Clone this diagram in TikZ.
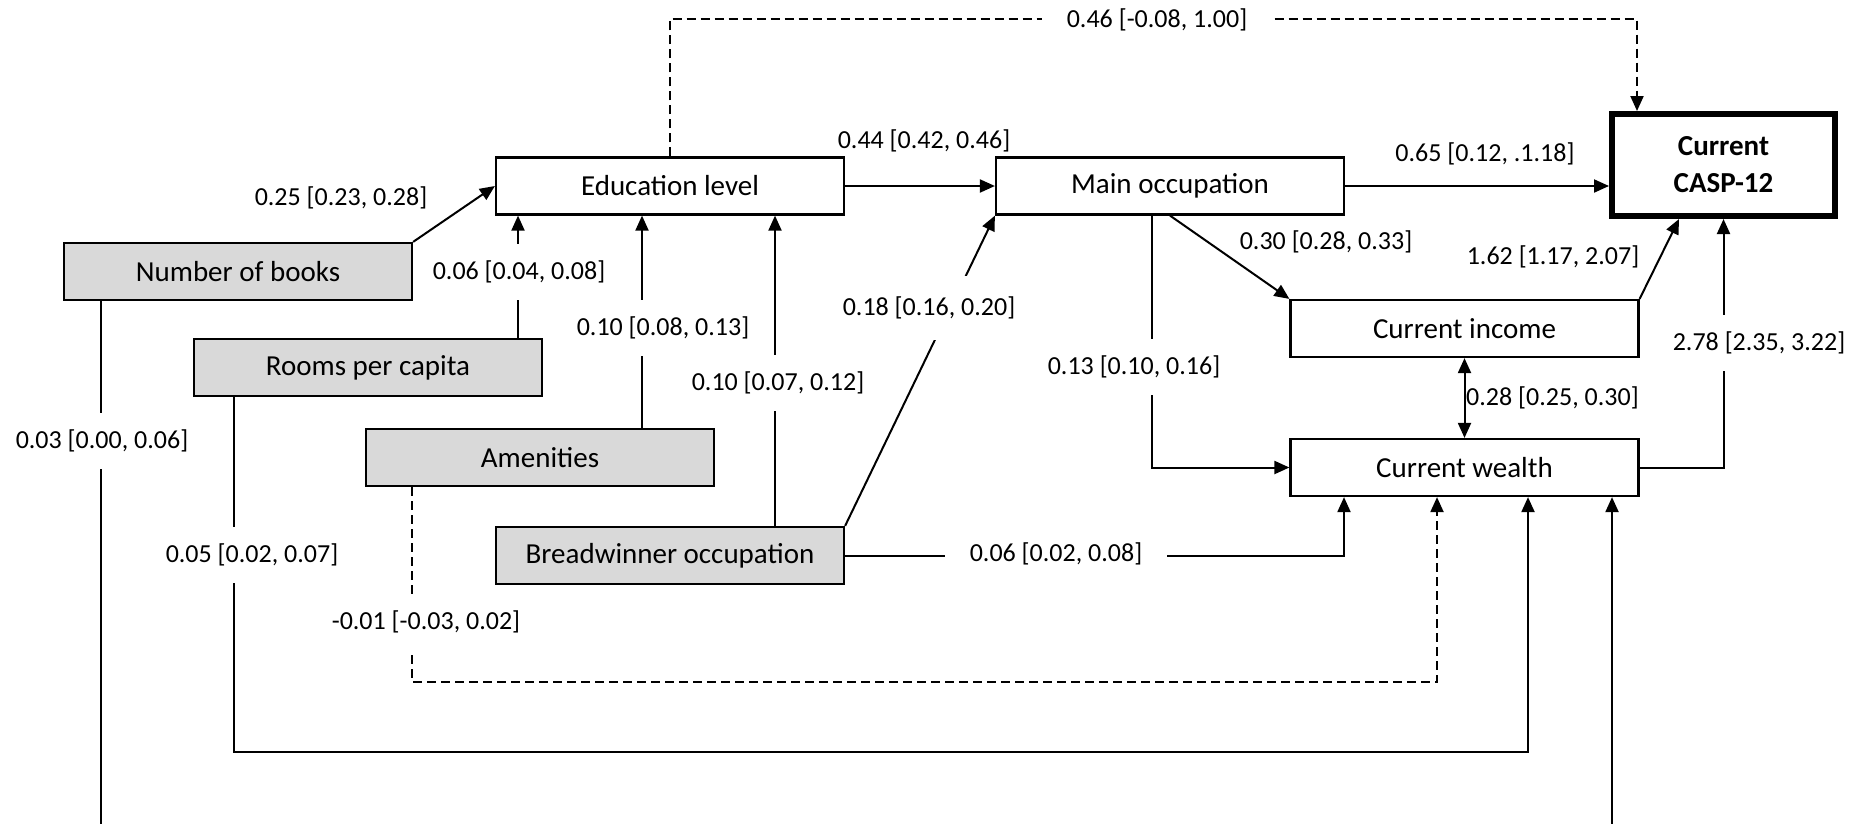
\documentclass[tikz,border=0pt]{standalone}
\usepackage{fontspec}
\setmainfont{Carlito}
\usetikzlibrary{arrows.meta,calc}
\definecolor{boxgray}{HTML}{D9D9D9}
\begin{document}
\begin{tikzpicture}[x=1pt,y=-1pt,
  box/.style={draw,line width=2.2pt,minimum width=348pt,minimum height=57pt,inner sep=0pt,font=\fontsize{29}{35}\selectfont},
  gbox/.style={box,fill=boxgray},
  lbl/.style={font=\fontsize{26}{31}\selectfont,inner sep=0pt},
  lblv/.style={lbl,fill=white,inner xsep=3pt,inner ysep=17pt},
  lblh/.style={lbl,fill=white,inner xsep=25pt,inner ysep=3pt},
  conn/.style={line width=2pt},
  tip/.tip={Triangle[length=15pt,width=13pt]},
  arr/.style={conn,-tip},
  dsh/.style={dash pattern=on 9pt off 5pt}]
\useasboundingbox (0,0) rectangle (1870,823);
\clip (0,0) rectangle (1870,823);
% boxes
\node[box] (edu) at (670,186) {Education level};
\node[box] (main) at (1170,186) {Main occupation};
\node[draw,line width=6pt,minimum width=223pt,minimum height=102pt,align=center,
      font=\fontsize{29}{37}\selectfont\bfseries] (casp) at (1723.5,165) {Current\\CASP-12};
\node[box] (income) at (1464.5,328.5) {Current income};
\node[box] (wealth) at (1464.5,467.5) {Current wealth};
\node[gbox] (books) at (238,271.5) {Number of books};
\node[gbox] (rooms) at (368,367.5) {Rooms per capita};
\node[gbox] (amen) at (540,457.5) {Amenities};
\node[gbox] (bread) at (670,555.5) {Breadwinner occupation};
% helper coordinates
\coordinate (c101) at (101,0);
\coordinate (c234) at (234,0);
\coordinate (c412) at (412,0);
\coordinate (c518) at (518,0);
\coordinate (c642) at (642,0);
\coordinate (c775) at (775,0);
\coordinate (c1152) at (1152,0);
\coordinate (c1344) at (1344,0);
\coordinate (c1437) at (1437,0);
\coordinate (c1528) at (1528,0);
\coordinate (c1612) at (1612,0);
\coordinate (c1637) at (1637,0);
\coordinate (c1679) at (1679,0);
\coordinate (ytop) at (0,19);
\coordinate (y682) at (0,682);
\coordinate (y752) at (0,752);
\coordinate (ybot) at (0,850);
% connectors
\draw[arr,dsh] (edu.north) |- (c1637 |- ytop) -- (casp.north -| c1637);
\draw[arr] (books.north east) -- (edu.west);
\draw[arr] (rooms.north -| c518) -- (edu.south -| c518);
\draw[arr] (amen.north -| c642) -- (edu.south -| c642);
\draw[arr] (bread.north -| c775) -- (edu.south -| c775);
\draw[arr] (edu.east) -- (main.west);
\draw[arr] (bread.north east) -- (main.south west);
\draw[arr] (main.east) -- (main.east -| casp.west);
\draw[arr] (main.south) -- (income.north west);
\draw[arr] (income.north east) -- (casp.south -| c1679);
\draw[arr] (main.south -| c1152) |- (wealth.west);
\draw[arr] (wealth.east) -| (casp.south);
\draw[conn,tip-tip] (income.south) -- (wealth.north);
\draw[arr] (bread.east) -| (wealth.south -| c1344);
\draw[arr,dsh] (amen.south -| c412) -- (c412 |- y682) -| (wealth.south -| c1437);
\draw[arr] (rooms.south -| c234) |- (c1528 |- y752) -- (wealth.south -| c1528);
\draw[arr] (books.south -| c101) -- (c101 |- ybot) -| (wealth.south -| c1612);
% labels
\node[lblh] (l046) at (1157,20) {0.46 [-0.08, 1.00]};
\node[lbl] (l044) at (924,141) {0.44 [0.42, 0.46]};
\node[lbl] (l065) at (1485,154) {0.65 [0.12, .1.18]};
\node[lbl] (l025) at (341,198) {0.25 [0.23, 0.28]};
\node[lblv] (l006a) at (519,272) {0.06 [0.04, 0.08]};
\node[lbl] (l030) at (1326,242) {0.30 [0.28, 0.33]};
\node[lbl] (l162) at (1553,257) {1.62 [1.17, 2.07]};
\node[lblv,inner ysep=21pt] (l018) at (929,308) {0.18 [0.16, 0.20]};
\node[lblv] (l010a) at (663,328) {0.10 [0.08, 0.13]};
\node[lblv] (l013) at (1134,367) {0.13 [0.10, 0.16]};
\node[lblv] (l278) at (1759,343) {2.78 [2.35, 3.22]};
\node[lblv] (l010b) at (778,383) {0.10 [0.07, 0.12]};
\node[lbl,anchor=west] (l028) at (1466,398) {0.28 [0.25, 0.30]};
\node[lblv] (l003) at (102,441) {0.03 [0.00, 0.06]};
\node[lblv] (l005) at (252,555) {0.05 [0.02, 0.07]};
\node[lblh] (l006b) at (1056,554) {0.06 [0.02, 0.08]};
\node[lblv] (l001) at (426,622) {-0.01 [-0.03, 0.02]};
\end{tikzpicture}
\end{document}
